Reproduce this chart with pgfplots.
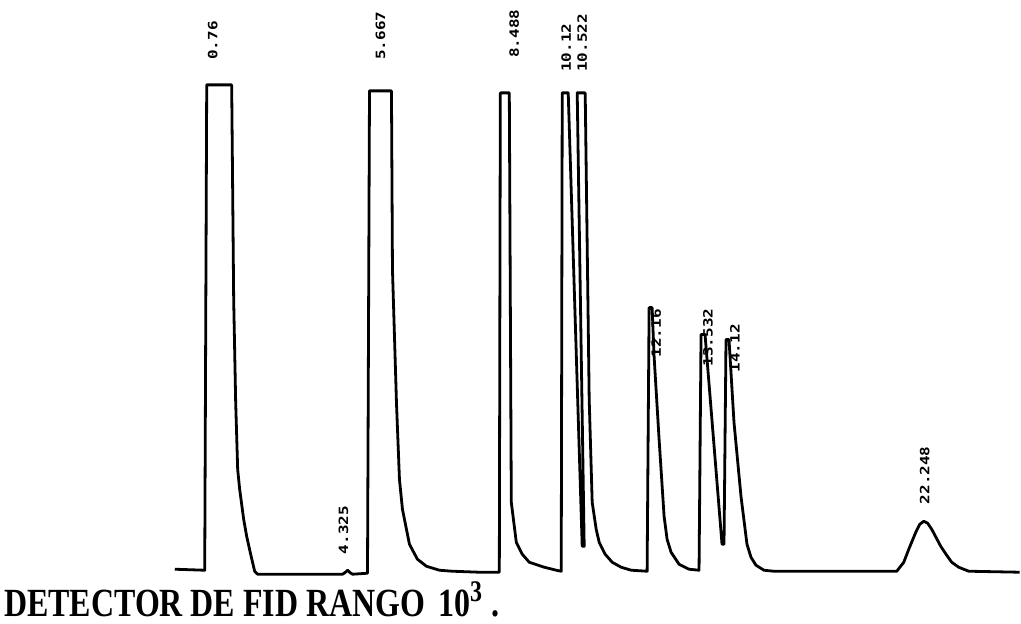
\documentclass[border=0pt]{standalone}
\usepackage{fontspec}
\setmainfont{Liberation Serif}
\newfontfamily\lblfont{DejaVu Sans Mono}
\usepackage{pgfplots}
\pgfplotsset{compat=1.18}
\newcommand{\pk}[1]{\scalebox{1}[0.8]{\lblfont\bfseries\fontsize{16}{16}\selectfont #1}}
\begin{document}
\begin{tikzpicture}
\begin{axis}[
  width=1021pt, height=624pt, scale only axis,
  xmin=0, xmax=1021, ymin=0, ymax=624, y dir=reverse,
  axis lines=none, ticks=none, clip=false,
]
\path (axis cs:0,0) rectangle (axis cs:1021,624);
\addplot[black, line width=2.8pt, line join=round] coordinates {
(175,570) (205,571) (207,85) (232,85) (234,300) (236,403) (238,470) (240,490) (244,520) (247,537) (251,555) (255,572) (258,575) (300,575) (343,575) (346,573) (348,571) (350,573) (353,575) (368,574)
(370,91) (392,91) (393,270) (397,403) (400,480) (403,510) (410,545) (418,560) (427,567) (440,571) (453,572) (480,573) (500,573)
(501,93) (510,93) (512,503) (517,543) (523,555) (530,563) (545,568) (557,571) (562,572)
(563,93) (569,93) (583,547) (585,547) (578,93) (586,93) (590,400) (593,503) (597,530) (600,543) (606,555) (613,563) (622,568) (632,571) (648,572)
(650,308) (653,308) (655,357) (660,440) (665,517) (668,540) (672,553) (680,565) (690,570) (700,571)
(702,335) (706,335) (723,545) (725,545) (727,340) (730,340) (735,423) (742,497) (748,545) (752,558) (757,566) (765,571) (775,572)
(898,572) (905,563) (910,550) (917,533) (921,525) (925,522) (929,524) (933,530) (942,547) (948,556) (953,563) (960,568) (970,572) (1021,573)
};
\node[rotate=90, anchor=west, inner sep=0pt] at (axis cs:213,60) {\pk{0.76}};
\node[rotate=90, anchor=west, inner sep=0pt] at (axis cs:381,60) {\pk{5.667}};
\node[rotate=90, anchor=west, inner sep=0pt] at (axis cs:515,58) {\pk{8.488}};
\node[rotate=90, anchor=west, inner sep=0pt] at (axis cs:567,72) {\pk{10.12}};
\node[rotate=90, anchor=west, inner sep=0pt] at (axis cs:583,72) {\pk{10.522}};
\node[rotate=90, anchor=west, inner sep=0pt] at (axis cs:344,555) {\pk{4.325}};
\node[rotate=90, anchor=west, inner sep=0pt] at (axis cs:657,358) {\pk{12.16}};
\node[rotate=90, anchor=west, inner sep=0pt] at (axis cs:709,367) {\pk{13.532}};
\node[rotate=90, anchor=west, inner sep=0pt] at (axis cs:736,373) {\pk{14.12}};
\node[rotate=90, anchor=west, inner sep=0pt] at (axis cs:926,505) {\pk{22.248}};
\node[anchor=base west, inner sep=0pt] at (axis cs:4,617) {\scalebox{0.8}[1]{\bfseries\fontsize{40}{40}\selectfont DETECTOR DE FID RANGO\hspace{16pt}10\raisebox{15pt}{\fontsize{30}{30}\selectfont 3}\hspace{12pt}.}};
\end{axis}
\end{tikzpicture}
\end{document}
